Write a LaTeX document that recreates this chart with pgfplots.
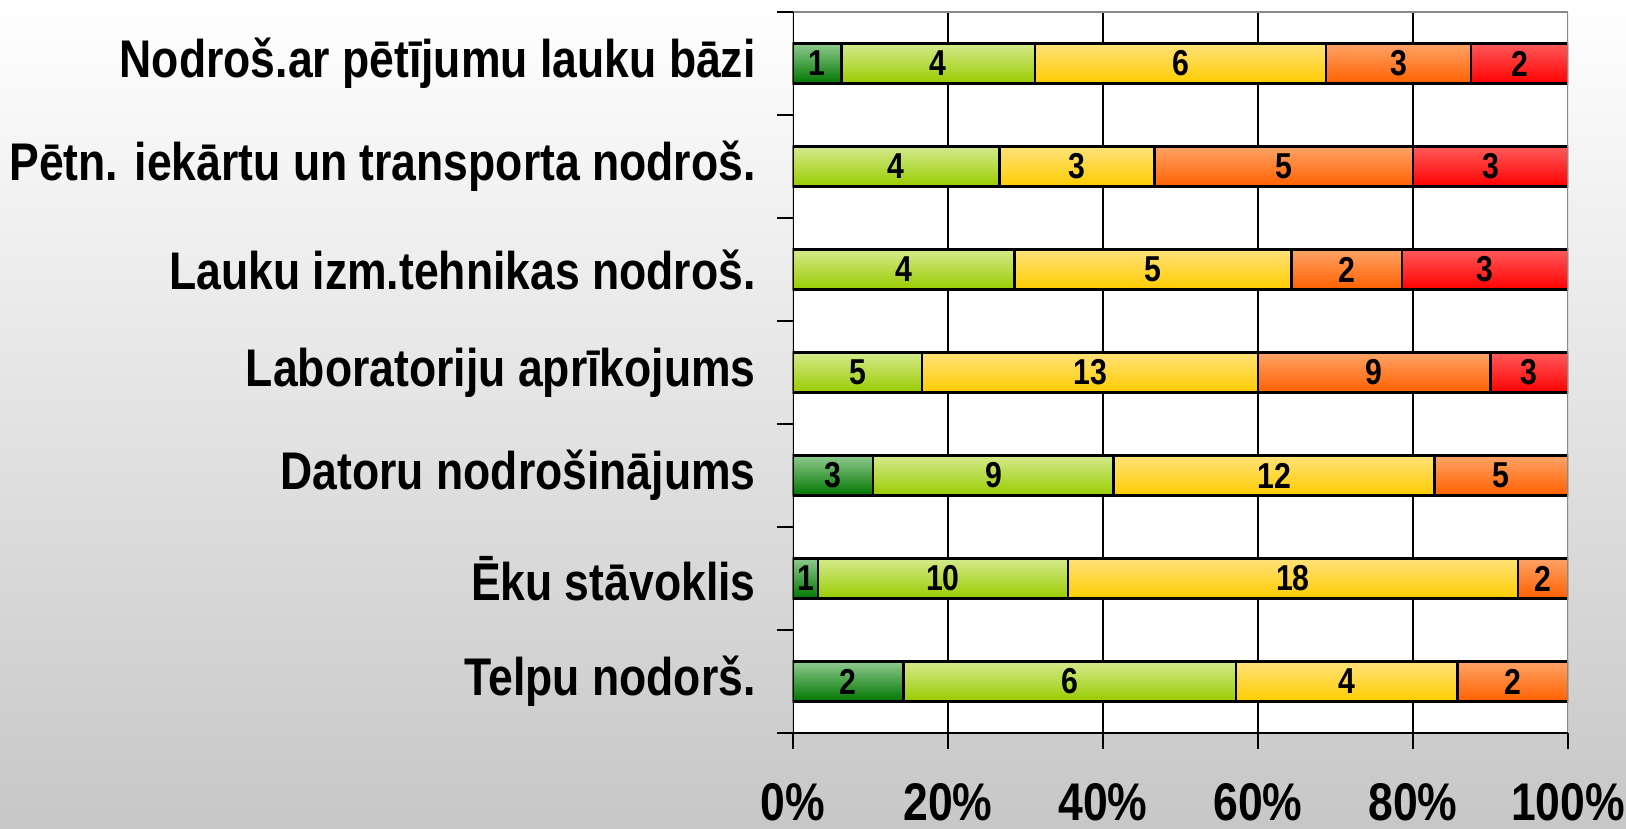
\documentclass[border=0pt]{standalone}
\usepackage{pgfplots}
\pgfplotsset{compat=1.18}
\usepackage{fontspec}
\setmainfont[FakeStretch=0.84]{Liberation Sans}
\definecolor{dgT}{RGB}{143,202,143}
\definecolor{dgB}{RGB}{0,118,0}
\definecolor{lgT}{RGB}{212,234,140}
\definecolor{lgB}{RGB}{153,204,0}
\definecolor{yeT}{RGB}{255,226,122}
\definecolor{yeB}{RGB}{255,204,0}
\definecolor{orT}{RGB}{255,163,102}
\definecolor{orB}{RGB}{255,96,0}
\definecolor{reT}{RGB}{255,90,90}
\definecolor{reB}{RGB}{255,0,0}
\definecolor{frame}{RGB}{136,136,136}
\pgfplotsset{
  seg/.style={xbar, bar width=20pt, bar shift=0pt, draw=black, line width=1.3pt},
  dg/.style={seg, top color=dgT, bottom color=dgB},
  lg/.style={seg, top color=lgT, bottom color=lgB},
  ye/.style={seg, top color=yeT, bottom color=yeB},
  or/.style={seg, top color=orT, bottom color=orB},
  re/.style={seg, top color=reT, bottom color=reB},
}
\begin{document}
\begin{tikzpicture}
\shade[top color=white, bottom color=black!22] (-396.5pt,-48pt) rectangle (416.5pt,366.5pt);
\begin{axis}[
  at={(0pt,0pt)}, anchor=south west,
  scale only axis, width=387.5pt, height=360.5pt,
  xmin=0, xmax=100, ymin=-0.5, ymax=6.5,
  axis background/.style={fill=white},
  axis line style={draw=none},
  xtick={20,40,60,80}, xticklabels={20\%,40\%,60\%,80\%},
  extra x ticks={0,100}, extra x tick labels={0\%,100\%},
  extra x tick style={grid=none},
  ytick={0,...,6},
  yticklabels={Telpu nodorš., Ēku stāvoklis, Datoru nodrošinājums, Laboratoriju aprīkojums, Lauku izm.tehnikas nodroš., Pētn. iekārtu un transporta nodroš., Nodroš.ar pētījumu lauku bāzi},
  minor xtick={0,20,...,100}, minor ytick={-0.5,0.5,...,6.5},
  major tick length=0pt, minor tick length=8pt,
  tick align=outside, tick pos=left,
  tick style={black, line width=1.1pt},
  xmajorgrids, major grid style={black, line width=1.2pt},
  ticklabel style={font=\bfseries\fontsize{26.5}{30}\selectfont, inner sep=0pt},
  yticklabel style={xshift=-18.5pt},
  xticklabel style={yshift=-25pt},
]
% cumulative right ends of each segment (percent of row total), drawn from the right-most segment down
% Row 0: Telpu nodorš. (2,6,4,2,0)
\addplot[or] coordinates {(100,0)};
\addplot[ye] coordinates {(85.714,0)};
\addplot[lg] coordinates {(57.143,0)};
\addplot[dg] coordinates {(14.286,0)};
% Row 1: Ēku stāvoklis (1,10,18,2,0)
\addplot[or] coordinates {(100,1)};
\addplot[ye] coordinates {(93.548,1)};
\addplot[lg] coordinates {(35.484,1)};
\addplot[dg] coordinates {(3.226,1)};
% Row 2: Datoru nodrošinājums (3,9,12,5,0)
\addplot[or] coordinates {(100,2)};
\addplot[ye] coordinates {(82.759,2)};
\addplot[lg] coordinates {(41.379,2)};
\addplot[dg] coordinates {(10.345,2)};
% Row 3: Laboratoriju aprīkojums (0,5,13,9,3)
\addplot[re] coordinates {(100,3)};
\addplot[or] coordinates {(90,3)};
\addplot[ye] coordinates {(60,3)};
\addplot[lg] coordinates {(16.667,3)};
% Row 4: Lauku izm.tehnikas nodroš. (0,4,5,2,3)
\addplot[re] coordinates {(100,4)};
\addplot[or] coordinates {(78.571,4)};
\addplot[ye] coordinates {(64.286,4)};
\addplot[lg] coordinates {(28.571,4)};
% Row 5: Pētn. iekārtu un transporta nodroš. (0,4,3,5,3)
\addplot[re] coordinates {(100,5)};
\addplot[or] coordinates {(80,5)};
\addplot[ye] coordinates {(46.667,5)};
\addplot[lg] coordinates {(26.667,5)};
% Row 6: Nodroš.ar pētījumu lauku bāzi (1,4,6,3,2)
\addplot[re] coordinates {(100,6)};
\addplot[or] coordinates {(87.5,6)};
\addplot[ye] coordinates {(68.75,6)};
\addplot[lg] coordinates {(31.25,6)};
\addplot[dg] coordinates {(6.25,6)};
% counts, placed at the middle of each segment
\addplot[only marks, mark=none, point meta=explicit symbolic, nodes near coords,
  every node near coord/.style={font=\bfseries\fontsize{18}{20}\selectfont, anchor=center, text=black, inner sep=0pt}]
coordinates {
(7.143,0) [2] (35.714,0) [6] (71.429,0) [4] (92.857,0) [2]
(1.613,1) [1] (19.355,1) [10] (64.516,1) [18] (96.774,1) [2]
(5.172,2) [3] (25.862,2) [9] (62.069,2) [12] (91.379,2) [5]
(8.333,3) [5] (38.333,3) [13] (75,3) [9] (95,3) [3]
(14.286,4) [4] (46.429,4) [5] (71.429,4) [2] (89.286,4) [3]
(13.333,5) [4] (36.667,5) [3] (63.333,5) [5] (90,5) [3]
(3.125,6) [1] (18.75,6) [4] (50,6) [6] (78.125,6) [3] (93.75,6) [2]
};
\draw[frame, line width=1.3pt] (rel axis cs:0,1) -- (rel axis cs:1,1) -- (rel axis cs:1,0);
\draw[black, line width=1.2pt] (rel axis cs:0,1) -- (rel axis cs:0,0) -- (rel axis cs:1,0);
\end{axis}
\pgfresetboundingbox
\path (-396.5pt,-48pt) rectangle (416.5pt,366.5pt);
\end{tikzpicture}
\end{document}
